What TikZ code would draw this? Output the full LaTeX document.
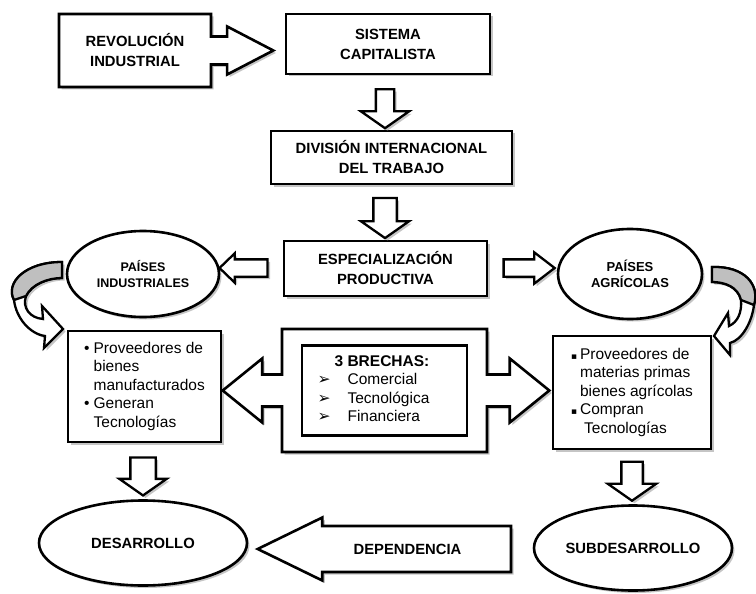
\documentclass[tikz,border=0pt]{standalone}
\usepackage{fontspec}
\setmainfont{Liberation Sans}
\newfontfamily\dejavu{DejaVu Sans}
\usepackage{tikz}
\usetikzlibrary{shapes.geometric}
\usetikzlibrary{shapes.arrows}
\usetikzlibrary{shadows}
\usetikzlibrary{calc}

\newcommand\titulo{\fontsize{14.8}{20}\selectfont\bfseries}
\newcommand\lista{\fontsize{15.5}{18.5}\selectfont}

\begin{document}
\begin{tikzpicture}[x=1pt, y=-1pt]
        % ================= Estilos =================
        \tikzset{
            % sombra gris desplazada abajo a la derecha
            sombra/.style={drop shadow={shadow xshift=2.5pt, shadow yshift=-2.5pt, fill=black!45}},
            % caja rectangular de borde grueso
            caja/.style={rectangle, draw=black, line width=2.6pt, fill=white, sombra, inner sep=0pt, align=center, font=\titulo},
            % elipse de borde grueso
            elipse/.style={ellipse, draw=black, line width=2.6pt, fill=white, sombra, inner sep=0pt, align=center, font=\titulo},
            % caja con flecha (arrow box)
            cajaflecha/.style={caja, shape=arrow box},
            % flecha de bloque hueca
            flecha/.style={single arrow, draw=black, line width=2.3pt, fill=white, sombra, single arrow head indent=0pt},
            bajar/.style={flecha, shape border rotate=270, single arrow tip angle=110},
            % flecha curva
            curva/.style={line width=2.3pt, fill=white, sombra}
        }
        \useasboundingbox (0,0) rectangle (756,594);

        % ================= Flechas curvas (atras de las elipses) =================
        \begin{scope}[shift={(63,329)}]
            \draw[curva]
                (-1,-67) .. controls (-38,-67) and (-58,-46) .. (-49,-29)
                .. controls (-47,-11) and (-33,5) .. (-18,7)
                -- (-19,19) -- (0,0) -- (-21,-23) -- (-20,-10)
                .. controls (-33,-11) and (-41,-21) .. (-37,-33)
                .. controls (-31,-45) and (-15,-51) .. (-1,-51) -- cycle;
            \draw[line width=2.3pt, fill=black!25]
                (-1,-67) .. controls (-38,-67) and (-58,-46) .. (-49,-29)
                -- (-37,-33) .. controls (-31,-45) and (-15,-51) .. (-1,-51) -- cycle;
        \end{scope}
        \begin{scope}[shift={(714,336)}]
            \draw[curva]
                (-2,-69) .. controls (31,-70) and (46,-51) .. (40,-31)
                .. controls (38,-14) and (28,4) .. (16,7)
                -- (16,19) -- (0,0) -- (14,-23) -- (15,-10)
                .. controls (24,-14) and (28,-24) .. (27,-36)
                .. controls (24,-49) and (11,-54) .. (-2,-54) -- cycle;
            \draw[line width=2.3pt, fill=black!25]
                (-2,-69) .. controls (31,-70) and (46,-51) .. (40,-31)
                -- (27,-36) .. controls (24,-49) and (11,-54) .. (-2,-54) -- cycle;
        \end{scope}

        % ================= Cajas superiores =================
        \node[cajaflecha, minimum width=152pt, minimum height=73pt,
              arrow box arrows={east:61pt}, arrow box shaft width=28pt,
              arrow box head extend=10pt, arrow box tip angle=55] (rev) at (135,50.5) {REVOLUCIÓN\\INDUSTRIAL};
        \node[caja, minimum width=204pt, minimum height=60pt] (sis) at (388,44) {SISTEMA\\CAPITALISTA};
        \node[caja, minimum width=241pt, minimum height=53pt] (div) at (391.5,157.5) {DIVISIÓN INTERNACIONAL\\DEL TRABAJO};
        \node[caja, minimum width=203pt, minimum height=55pt] (esp) at (385.5,268.5) {ESPECIALIZACIÓN\\PRODUCTIVA};

        % flechas hacia abajo
        \node[bajar, inner sep=8pt, single arrow head extend=15pt, minimum height=39pt] (f1) at (385,105.5) {};
        \node[bajar, inner sep=10.5pt, single arrow head extend=12.5pt, minimum height=40pt] (f2) at (385,214) {};

        % ================= Paises =================
        \node[elipse, minimum width=152pt, minimum height=86pt, font=\fontsize{12.5}{16}\selectfont\bfseries] (ind) at (143,274) {PAÍSES\\INDUSTRIALES};
        \node[elipse, minimum width=144pt, minimum height=90pt, font=\fontsize{13}{16}\selectfont\bfseries] (agr) at (630,274) {PAÍSES\\AGRÍCOLAS};

        % flechas laterales
        \node[flecha, shape border rotate=180, inner sep=7.5pt, single arrow head extend=6pt,
              single arrow tip angle=88, minimum height=48pt] (f3) at (248,268) {};
        \node[flecha, inner sep=7.5pt, single arrow head extend=7pt,
              single arrow tip angle=75, minimum height=51pt] (f4) at (523.5,268) {};

        % ================= Cajas del centro =================
        \node[caja, minimum width=153pt, minimum height=111pt, font=\lista] (izq) at (144.5,386.5)
            {\begin{tabular}{@{}l@{\hspace{4pt}}l@{}}
                \textbullet & Proveedores de\\
                 & bienes\\
                 & manufacturados\\
                \textbullet & Generan\\
                 & Tecnologías
             \end{tabular}};
        \node[cajaflecha, minimum width=205pt, minimum height=123pt,
              arrow box arrows={west:58pt, east:61pt}, arrow box shaft width=32pt,
              arrow box head extend=16pt, arrow box tip angle=78] (bre) at (384.5,390.5) {};
        \node[rectangle, draw=black, line width=2.3pt, fill=white, minimum width=165pt, minimum height=90pt,
              inner sep=0pt, font=\lista] (brechas) at (bre.center)
            {\begin{tabular}{@{}l@{\hspace{17pt}}l@{}}
                \multicolumn{2}{@{\hspace{17pt}}c@{}}{\bfseries 3 BRECHAS:}\\
                {\dejavu ➢} & Comercial\\
                {\dejavu ➢} & Tecnológica\\
                {\dejavu ➢} & Financiera
             \end{tabular}\hspace*{22pt}};
        \node[caja, minimum width=158pt, minimum height=113pt, font=\lista] (der) at (632,392.5)
            {\begin{tabular}{@{}l@{\hspace{3pt}}l@{}}
                {\dejavu\small ▪} & Proveedores de\\
                 & materias primas\\
                 & bienes agrícolas\\
                {\dejavu\small ▪} & Compran\\
                 & \hspace{4pt}Tecnologías
             \end{tabular}};

        % flechas hacia abajo
        \node[bajar, inner sep=11.5pt, single arrow head extend=11pt, minimum height=38pt] (f5) at (143,472) {};
        \node[bajar, inner sep=9.5pt, single arrow head extend=13.5pt, minimum height=39pt] (f6) at (632,477.5) {};

        % ================= Resultados =================
        \node[elipse, minimum width=208pt, minimum height=85pt] (des) at (143,543) {DESARROLLO};
        \node[cajaflecha, minimum width=185pt, minimum height=46pt,
              arrow box arrows={west:67pt}, arrow box shaft width=46pt,
              arrow box head extend=8.5pt, arrow box tip angle=52] (dep) at (418.5,549) {DEPENDENCIA\hspace*{22pt}};
        \node[elipse, minimum width=198pt, minimum height=85pt] (sub) at (633,548) {SUBDESARROLLO};

\end{tikzpicture}
\end{document}
